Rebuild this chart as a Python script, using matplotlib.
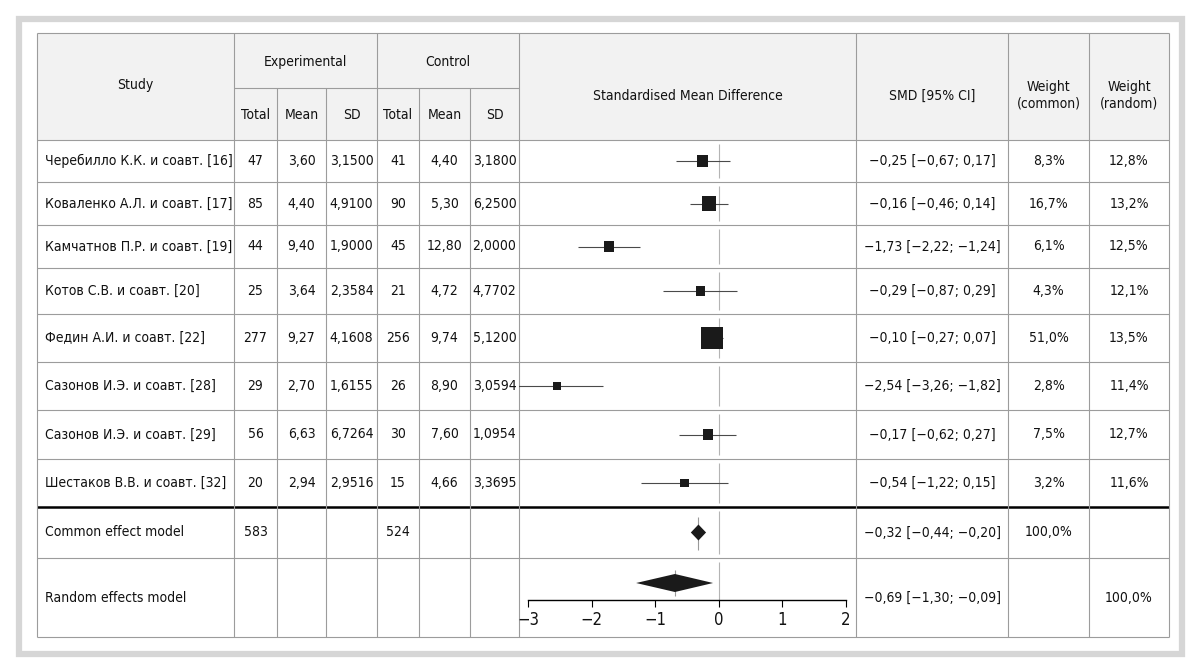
import matplotlib
matplotlib.use("Agg")
import matplotlib.pyplot as plt
from matplotlib.patches import Rectangle
import numpy as np

plt.rcParams['font.family'] = ['DejaVu Sans']
plt.rcParams['font.stretch'] = 'condensed'

# --- data ---
studies = ["Черебилло К.К. и соавт. [16]", "Коваленко А.Л. и соавт. [17]",
           "Камчатнов П.Р. и соавт. [19]", "Котов С.В. и соавт. [20]",
           "Федин А.И. и соавт. [22]", "Сазонов И.Э. и соавт. [28]",
           "Сазонов И.Э. и соавт. [29]", "Шестаков В.В. и соавт. [32]"]
exp_total = [47, 85, 44, 25, 277, 29, 56, 20]
exp_mean = [3.60, 4.40, 9.40, 3.64, 9.27, 2.70, 6.63, 2.94]
exp_sd = [3.1500, 4.9100, 1.9000, 2.3584, 4.1608, 1.6155, 6.7264, 2.9516]
ctrl_total = [41, 90, 45, 21, 256, 26, 30, 15]
ctrl_mean = [4.40, 5.30, 12.80, 4.72, 9.74, 8.90, 7.60, 4.66]
ctrl_sd = [3.1800, 6.2500, 2.0000, 4.7702, 5.1200, 3.0594, 1.0954, 3.3695]
smd = [-0.25, -0.16, -1.73, -0.29, -0.10, -2.54, -0.17, -0.54]
ci_lo = [-0.67, -0.46, -2.22, -0.87, -0.27, -3.26, -0.62, -1.22]
ci_hi = [0.17, 0.14, -1.24, 0.29, 0.07, -1.82, 0.27, 0.15]
w_common = [8.3, 16.7, 6.1, 4.3, 51.0, 2.8, 7.5, 3.2]
w_random = [12.8, 13.2, 12.5, 12.1, 13.5, 11.4, 12.7, 11.6]

common_total = [583, 524]
common_smd = [-0.32, -0.44, -0.20]
random_smd = [-0.69, -1.30, -0.09]
x_ticks = [-3, -2, -1, 0, 1, 2]

# --- layout (pixels) ---
cols = [37, 234, 277, 326, 377, 419, 470, 519, 856, 1008, 1089, 1169]
rows = [140, 182, 225, 268, 314, 362, 410, 459, 507, 558, 637]
top, mid = 33, 88
grid = '#9c9c9c'
FS = 10
TXT = '#111111'


def fmt(v, d):
    return f"{v:.{d}f}".replace('.', ',').replace('-', '\u2212')


def ci_text(e, lo, hi):
    return f"{fmt(e, 2)} [{fmt(lo, 2)}; {fmt(hi, 2)}]"


fig = plt.figure(figsize=(12, 6.64), dpi=100)
bg = fig.add_axes([0, 0, 1, 1])
bg.set_xlim(0, 1200)
bg.set_ylim(664, 0)
bg.axis('off')

bg.add_patch(Rectangle((19, 19), 1163, 635, fill=False, lw=4.5, ec='#d6d6d6'))
bg.add_patch(Rectangle((cols[0], top), cols[-1] - cols[0], rows[0] - top,
                       fc='#f2f2f2', ec='none'))

# horizontal rules
bg.hlines([top] + rows[:8] + [rows[9], rows[10]], cols[0], cols[-1], color=grid, lw=0.8)
bg.hlines(mid, cols[1], cols[7], color=grid, lw=0.8)
bg.hlines(rows[8], cols[0], cols[-1], color='black', lw=1.8)
# vertical rules
for i, x in enumerate(cols):
    y0 = mid if i in (2, 3, 5, 6) else top
    bg.vlines(x, y0, rows[-1], color=grid, lw=0.8)


def cc(i):
    return (cols[i] + cols[i + 1]) / 2


def put(x, y, s, ha='center', **kw):
    bg.text(x, y, s, ha=ha, va='center', fontsize=FS, color=TXT, **kw)


# header
put(cc(0), 85, "Study")
put((cols[1] + cols[4]) / 2, 62, "Experimental")
put((cols[4] + cols[7]) / 2, 62, "Control")
for i, lab in zip(range(1, 7), ["Total", "Mean", "SD"] * 2):
    put(cc(i), 115, lab)
put(cc(7), 96, "Standardised Mean Difference")
put(cc(8), 96, "SMD [95% CI]")
put(cc(9), 95, "Weight\n(common)", linespacing=1.2)
put(cc(10), 95, "Weight\n(random)", linespacing=1.2)

# study rows
yc = [(rows[k] + rows[k + 1]) / 2 for k in range(10)]
for k in range(len(studies)):
    y = yc[k]
    put(45, y, studies[k], ha='left')
    vals = [str(exp_total[k]), fmt(exp_mean[k], 2), fmt(exp_sd[k], 4),
            str(ctrl_total[k]), fmt(ctrl_mean[k], 2), fmt(ctrl_sd[k], 4)]
    for i, v in enumerate(vals):
        put(cc(i + 1), y, v)
    put(cc(8), y, ci_text(smd[k], ci_lo[k], ci_hi[k]))
    put(cc(9), y, fmt(w_common[k], 1) + "%")
    put(cc(10), y, fmt(w_random[k], 1) + "%")

yc_common = yc[8]
yc_random = 598
put(45, yc_common, "Common effect model", ha='left')
put(cc(1), yc_common, str(common_total[0]))
put(cc(4), yc_common, str(common_total[1]))
put(cc(8), yc_common, ci_text(*common_smd))
put(cc(9), yc_common, fmt(100.0, 1) + "%")
put(45, yc_random, "Random effects model", ha='left')
put(cc(8), yc_random, ci_text(*random_smd))
put(cc(10), yc_random, fmt(100.0, 1) + "%")

# --- forest plot axes ---
px_unit = (846 - 528) / 5
ax = fig.add_axes([cols[7] / 1200, (664 - rows[-1]) / 664,
                   (cols[8] - cols[7]) / 1200, (rows[-1] - rows[0]) / 664])
ax.set_facecolor('none')
ax.set_ylim(rows[-1], rows[0])
ax.set_xlim(-3 - (528 - cols[7]) / px_unit, 2 + (cols[8] - 846) / px_unit)
axis_y = 600

# zero reference line, broken at each row
for k in range(9):
    ax.vlines(0, rows[k] + 4, rows[k + 1] - 4, color='#b4b4b4', lw=0.8, zorder=1)
ax.vlines(0, rows[9] + 4, axis_y, color='#b4b4b4', lw=0.8, zorder=1)

ax.hlines(yc[:8], ci_lo, ci_hi, color='#4a4a4a', lw=0.8, zorder=2)
side = 3.7 + 2.56 * np.sqrt(w_common)
ax.scatter(smd, yc[:8], marker='s', s=(side * 0.72) ** 2, c='#1a1a1a',
           linewidths=0, zorder=3)

# summary diamonds
est, lo, hi = common_smd
ax.vlines(est, rows[8] + 10, rows[9] - 8, color='#9a9a9a', lw=0.8, zorder=1)
ax.fill([lo, est, hi, est], [yc_common, yc_common - 8, yc_common, yc_common + 8],
        color='#1a1a1a', lw=0, zorder=3)
est, lo, hi = random_smd
ax.vlines(est, rows[9] + 12, axis_y - 4, color='#9a9a9a', lw=0.8, zorder=1)
ax.fill([lo, est, hi, est], [583, 574, 583, 592], color='#1a1a1a', lw=0, zorder=3)

for s in ['top', 'left', 'right']:
    ax.spines[s].set_visible(False)
ax.spines['bottom'].set_position(('data', axis_y))
ax.spines['bottom'].set_bounds(-3, 2)
ax.spines['bottom'].set_linewidth(1.0)
ax.set_xticks(x_ticks)
ax.set_xticklabels([fmt(t, 0) for t in x_ticks], fontsize=12, color=TXT)
ax.tick_params(axis='x', direction='out', length=5, width=0.8, pad=3)
ax.set_yticks([])

fig.savefig("out.png", dpi=100)
